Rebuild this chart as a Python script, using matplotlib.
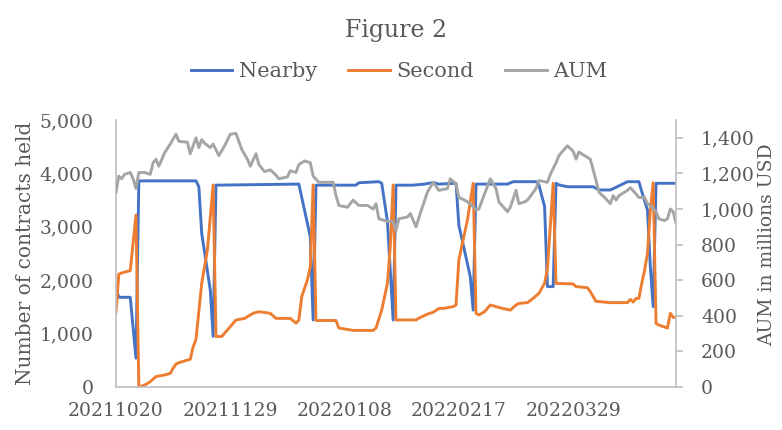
import matplotlib
matplotlib.use('Agg')
import matplotlib.pyplot as plt
import matplotlib.dates as mdates
from matplotlib.ticker import FuncFormatter, MultipleLocator
import pandas as pd

# ---- data ----
nearby_dates = ['20211020', '20211021', '20211025', '20211027', '20211028', '20211117', '20211118',
                '20211119', '20211122', '20211123', '20211124', '20211223', '20211227', '20211228',
                '20211229', '20220112', '20220113', '20220120', '20220121', '20220123', '20220125',
                '20220126', '20220201', '20220205', '20220208', '20220210', '20220216', '20220217',
                '20220221', '20220222', '20220223', '20220306', '20220308', '20220316', '20220317',
                '20220319', '20220320', '20220322', '20220323', '20220324', '20220327', '20220405',
                '20220407', '20220411', '20220413', '20220417', '20220421', '20220422', '20220424',
                '20220425', '20220426', '20220427', '20220504']
nearby = [1850, 1680, 1680, 540, 3860, 3860, 3750,
          2880, 1820, 950, 3780, 3800, 2815, 1255,
          3780, 3780, 3825, 3845, 3815, 3100, 1255,
          3780, 3780, 3800, 3830, 3800, 3815, 3030,
          2065, 1440, 3800, 3800, 3845, 3845, 3785,
          3380, 1880, 1880, 3815, 3785, 3750, 3750,
          3690, 3690, 3740, 3845, 3845, 3660, 3315,
          2255, 1505, 3815, 3815]

second_dates = ['20211020', '20211021', '20211022', '20211025', '20211027', '20211028', '20211030',
                '20211101', '20211103', '20211106', '20211108', '20211109', '20211110', '20211111',
                '20211115', '20211116', '20211117', '20211119', '20211121', '20211123', '20211124',
                '20211126', '20211129', '20211201', '20211204', '20211207', '20211209', '20211213',
                '20211215', '20211220', '20211222', '20211223', '20211224', '20211226', '20211227',
                '20211228', '20211229', '20220105', '20220106', '20220111', '20220118', '20220119',
                '20220121', '20220123', '20220124', '20220125', '20220126', '20220202', '20220203',
                '20220206', '20220208', '20220210', '20220212', '20220215', '20220216', '20220217',
                '20220220', '20220222', '20220223', '20220224', '20220226', '20220228', '20220302',
                '20220304', '20220307', '20220309', '20220310', '20220313', '20220315', '20220317',
                '20220319', '20220320', '20220322', '20220323', '20220329', '20220330', '20220403',
                '20220404', '20220406', '20220411', '20220417', '20220418', '20220419', '20220420',
                '20220421', '20220422', '20220423', '20220424', '20220425', '20220426', '20220427',
                '20220428', '20220501', '20220502', '20220503', '20220504']
second = [1410, 2115, 2135, 2180, 3220, 0, 35,
          100, 195, 225, 255, 350, 430, 455,
          520, 750, 890, 1940, 2565, 3785, 945,
          945, 1130, 1255, 1285, 1380, 1410, 1380,
          1285, 1285, 1195, 1255, 1690, 2005, 2255,
          3785, 1245, 1245, 1105, 1060, 1060, 1105,
          1440, 1940, 2630, 3785, 1255, 1255, 1290,
          1365, 1400, 1470, 1475, 1505, 1535, 2380,
          3130, 3815, 1380, 1350, 1410, 1535, 1505,
          1475, 1440, 1535, 1565, 1580, 1660, 1755,
          1940, 2220, 3815, 1940, 1930, 1880, 1860,
          1785, 1605, 1580, 1580, 1640, 1590, 1660,
          1660, 1940, 2190, 2500, 3315, 3825, 1190,
          1160, 1105, 1380, 1305, 1305]

aum_dates = ['20211020', '20211021', '20211022', '20211023', '20211025', '20211026', '20211027',
             '20211028', '20211030', '20211101', '20211102', '20211103', '20211104', '20211106',
             '20211108', '20211110', '20211111', '20211114', '20211115', '20211117', '20211118',
             '20211119', '20211120', '20211122', '20211123', '20211125', '20211127', '20211129',
             '20211201', '20211203', '20211205', '20211206', '20211208', '20211209', '20211211',
             '20211213', '20211215', '20211216', '20211219', '20211220', '20211222', '20211223',
             '20211225', '20211227', '20211228', '20211230', '20220102', '20220104', '20220105',
             '20220106', '20220109', '20220111', '20220113', '20220116', '20220118', '20220119',
             '20220120', '20220123', '20220125', '20220126', '20220127', '20220130', '20220131',
             '20220202', '20220204', '20220206', '20220208', '20220210', '20220213', '20220214',
             '20220216', '20220217', '20220219', '20220221', '20220223', '20220224', '20220226',
             '20220228', '20220302', '20220303', '20220306', '20220307', '20220309', '20220310',
             '20220312', '20220313', '20220316', '20220317', '20220320', '20220321', '20220323',
             '20220324', '20220327', '20220329', '20220330', '20220331', '20220403', '20220404',
             '20220406', '20220407', '20220409', '20220411', '20220412', '20220413', '20220414',
             '20220417', '20220418', '20220420', '20220421', '20220423', '20220424', '20220425',
             '20220427', '20220428', '20220430', '20220501', '20220502', '20220503', '20220504']
aum = [1095, 1185, 1170, 1195, 1205, 1170, 1115,
       1205, 1205, 1195, 1260, 1280, 1240, 1315,
       1365, 1420, 1380, 1375, 1310, 1400, 1345,
       1390, 1370, 1345, 1365, 1300, 1355, 1420,
       1425, 1335, 1280, 1240, 1310, 1250, 1210,
       1220, 1190, 1170, 1180, 1215, 1205, 1250,
       1270, 1260, 1185, 1150, 1150, 1150, 1075,
       1020, 1010, 1050, 1020, 1020, 1000, 1030,
       945, 930, 930, 880, 945, 955, 975,
       900, 1000, 1095, 1150, 1105, 1115, 1170,
       1140, 1065, 1050, 1030, 995, 1000, 1085,
       1170, 1115, 1040, 985, 1010, 1105, 1030,
       1040, 1050, 1115, 1160, 1150, 1195, 1260,
       1300, 1355, 1325, 1280, 1320, 1290, 1280,
       1160, 1095, 1065, 1030, 1075, 1050, 1075,
       1105, 1120, 1085, 1065, 1065, 1030, 1020,
       985, 945, 935, 945, 1000, 985, 920]

x_ticks = ['20211020', '20211129', '20220108', '20220217', '20220329']
x_start, x_end = '20211020', '20220504'

# ---- style ----
plt.rcParams['font.family'] = 'DejaVu Serif'
text_color = '#595959'
axis_color = '#BFBFBF'

fig = plt.figure(figsize=(7.82, 4.30), dpi=100)
ax = fig.add_axes([0.1483, 0.1, 0.7162, 0.6209])

to_dt = lambda d: pd.to_datetime(d, format='%Y%m%d')

l1, = ax.plot(to_dt(nearby_dates), nearby, color='#4472C4', lw=2.1, label='Nearby')
l2, = ax.plot(to_dt(second_dates), second, color='#ED7D31', lw=2.1, label='Second')
ax2 = ax.twinx()
l3, = ax2.plot(to_dt(aum_dates), aum, color='#A5A5A5', lw=2.1, label='AUM')

ax.set_xlim(to_dt(x_start), to_dt(x_end))
ax.set_ylim(0, 5000)
ax2.set_ylim(0, 1500)
ax.yaxis.set_major_locator(MultipleLocator(1000))
ax2.yaxis.set_major_locator(MultipleLocator(200))
ax.yaxis.set_major_formatter(FuncFormatter(lambda v, p: f'{v:,.0f}'))
ax2.yaxis.set_major_formatter(FuncFormatter(lambda v, p: f'{v:,.0f}'))
ax.set_xticks(to_dt(x_ticks))
ax.xaxis.set_major_formatter(mdates.DateFormatter('%Y%m%d'))

for s in ['top', 'right']:
    ax.spines[s].set_visible(False)
for s in ['top', 'left', 'bottom']:
    ax2.spines[s].set_visible(False)
for a, s in [(ax, 'left'), (ax, 'bottom'), (ax2, 'right')]:
    a.spines[s].set_color(axis_color)
    a.spines[s].set_linewidth(1.2)

ax.tick_params(axis='y', length=0, pad=16, labelsize=13.5, labelcolor=text_color)
ax.tick_params(axis='x', length=0, pad=11, labelsize=13.5, labelcolor=text_color)
ax2.tick_params(axis='y', length=5, width=1.2, color=axis_color, pad=13, labelsize=13.5, labelcolor=text_color)

fig.text(0.507, 0.93, 'Figure 2', ha='center', va='center', fontsize=17, color=text_color)
fig.text(0.033, 0.41, 'Number of contracts held', ha='center', va='center', rotation=90,
         fontsize=14.5, color=text_color)
fig.text(0.981, 0.43, 'AUM in millions USD', ha='center', va='center', rotation=90,
         fontsize=13.5, color=text_color)

leg = fig.legend([l1, l2, l3], ['Nearby', 'Second', 'AUM'], loc='center', bbox_to_anchor=(0.51, 0.833),
                 ncol=3, frameon=False, handlelength=2.0, columnspacing=1.5, handletextpad=0.3,
                 fontsize=15)
for t in leg.get_texts():
    t.set_color(text_color)

plt.savefig('out.png', dpi=100)
